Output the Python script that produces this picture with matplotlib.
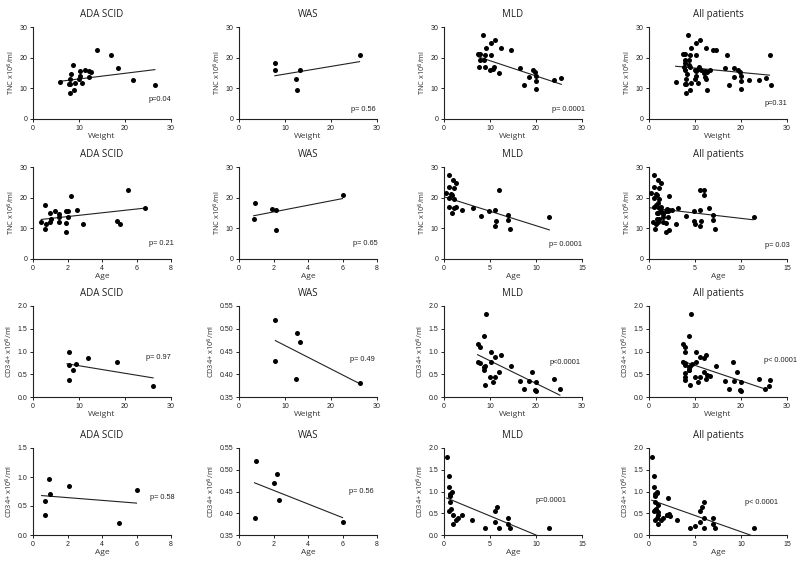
import matplotlib
matplotlib.use("Agg")
import matplotlib.pyplot as plt
import numpy as np

# ---------------- data ----------------
# Row 1: TNC vs Weight
ada_w_x = [5.9, 7.9, 8.1, 8.1, 8.3, 8.6, 8.9, 9.1, 10.1, 10.2, 10.2, 10.6, 11.4, 12.1, 12.2, 12.7, 14.0, 16.9, 18.5, 21.7, 26.6, 8.0]
ada_w_y = [12.1, 11.3, 8.6, 12.9, 14.6, 17.5, 9.6, 11.8, 12.9, 15.6, 14.0, 11.6, 15.9, 13.8, 15.6, 15.3, 22.6, 20.8, 16.6, 12.6, 11.2, 11.4]
was_w_x = [7.8, 7.8, 12.3, 13.2, 12.7, 26.2]
was_w_y = [18.4, 16.1, 13.0, 16.1, 9.4, 20.8]
mld_w_x = [7.3, 7.8, 7.5, 7.8, 8.5, 8.7, 8.9, 9.1, 8.9, 10.0, 10.2, 10.3, 10.6, 10.9, 11.1, 12.0, 12.3, 14.6,
           16.5, 17.4, 18.5, 19.3, 19.7, 20.0, 20.0, 20.0, 24.0, 25.4]
mld_w_y = [21.3, 21.3, 17.0, 19.4, 27.3, 19.4, 21.0, 23.3, 16.8, 15.9, 21.0, 24.8, 16.4, 17.0, 25.7, 15.1, 23.2, 22.4,
           16.7, 11.0, 13.8, 15.9, 15.4, 14.0, 12.5, 9.8, 12.7, 13.4]

# Row 2: TNC vs Age
ada_a_x = [0.48, 0.67, 0.71, 0.77, 1.0, 1.0, 1.04, 1.29, 1.52, 1.52, 1.52, 1.9, 1.9, 1.9, 2.02, 2.02, 2.19, 2.53, 2.92, 4.88, 5.03, 5.5, 6.5]
ada_a_y = [12.2, 9.8, 17.7, 11.5, 14.9, 12.2, 13.1, 15.5, 14.7, 13.8, 12.2, 15.6, 11.8, 8.7, 15.5, 13.6, 20.7, 16.0, 11.5, 12.5, 11.3, 22.6, 16.6]
was_a_x = [0.85, 0.95, 1.93, 2.13, 2.13, 6.0]
was_a_y = [13.0, 18.4, 16.2, 16.0, 9.4, 20.8]
mld_a_x = [0.25, 0.51, 0.55, 0.55, 0.55, 0.73, 0.91, 0.91, 0.98, 1.05, 1.09, 1.09, 1.35, 1.35, 1.96, 3.16, 4.0,
           4.9, 5.5, 5.7, 5.96, 5.5, 7.0, 7.0, 7.2, 11.45]
mld_a_y = [21.5, 20.0, 23.5, 27.5, 16.9, 21.3, 21.0, 15.0, 25.6, 19.6, 23.1, 16.6, 24.9, 16.9, 16.0, 16.7, 13.9,
           15.8, 16.0, 12.5, 22.4, 10.9, 14.2, 12.8, 9.8, 13.6]

# Row 3: CD34+ vs Weight
ada_cw_x = [7.8, 7.8, 7.8, 8.8, 9.25, 12.0, 18.2, 26.1]
ada_cw_y = [1.0, 0.70, 0.37, 0.60, 0.72, 0.86, 0.78, 0.24]
was_cw_x = [7.9, 7.9, 12.4, 12.7, 13.2, 26.2]
was_cw_y = [0.52, 0.43, 0.39, 0.49, 0.47, 0.38]
mld_cw_x = [7.3, 7.9, 7.4, 7.9, 8.6, 8.8, 8.8, 9.0, 9.1, 9.0, 9.9, 10.2, 10.3, 10.7, 11.0, 11.0, 12.0, 12.3,
            14.6, 16.5, 17.4, 18.5, 19.2, 19.7, 19.9, 20.1, 23.9, 25.3]
mld_cw_y = [1.16, 1.09, 0.76, 0.75, 1.35, 0.60, 0.65, 0.69, 1.82, 0.27, 0.44, 0.76, 1.0, 0.33, 0.89, 0.45, 0.55, 0.92,
            0.69, 0.36, 0.17, 0.35, 0.56, 0.16, 0.34, 0.13, 0.39, 0.17]

# Row 4: CD34+ vs Age
ada_ca_x = [0.7, 0.7, 0.9, 1.0, 2.1, 5.0, 6.0]
ada_ca_y = [0.35, 0.58, 0.97, 0.70, 0.85, 0.20, 0.77]
was_ca_x = [0.9, 1.0, 2.0, 2.2, 2.3, 6.0]
was_ca_y = [0.39, 0.52, 0.47, 0.49, 0.43, 0.38]
mld_ca_x = [0.3, 0.5, 0.5, 0.6, 0.6, 0.7, 0.8, 0.9, 0.5, 1.0, 1.0, 1.3, 1.5, 2.0, 3.0, 4.5, 5.5, 5.8, 6.0,
            5.5, 7.0, 7.2, 7.0, 11.4]
mld_ca_y = [1.80, 1.35, 1.10, 0.90, 0.75, 0.95, 0.60, 1.00, 0.55, 0.45, 0.25, 0.35, 0.40, 0.45, 0.35, 0.15, 0.55, 0.65, 0.15,
            0.30, 0.40, 0.15, 0.25, 0.15]

# regression line endpoints: (x0, x1), (y0, y1)
fit_lines = {
    (0, 0): ([5.9, 26.5], [12.3, 16.1]),
    (0, 1): ([7.8, 26.2], [14.1, 18.7]),
    (0, 2): ([7.4, 25.5], [20.3, 11.3]),
    (0, 3): ([5.8, 26.2], [17.2, 14.3]),
    (1, 0): ([0.48, 6.5], [12.9, 16.6]),
    (1, 1): ([0.85, 6.0], [14.1, 19.7]),
    (1, 2): ([0.1, 11.45], [20.2, 9.5]),
    (1, 3): ([0.1, 11.3], [16.7, 12.8]),
    (2, 0): ([7.4, 26.1], [0.73, 0.42]),
    (2, 1): ([7.9, 26.1], [0.474, 0.38]),
    (2, 2): ([7.3, 25.2], [0.93, 0.04]),
    (2, 3): ([7.2, 25.7], [0.79, 0.16]),
    (3, 0): ([0.5, 6.0], [0.68, 0.55]),
    (3, 1): ([0.9, 6.0], [0.47, 0.39]),
    (3, 2): ([0.3, 10.0], [0.85, 0.0]),
    (3, 3): ([0.3, 11.0], [0.80, 0.0]),
}

p_texts = [["p=0.04", "p= 0.56", "p= 0.0001", "p=0.31"],
           ["p= 0.21", "p= 0.65", "p= 0.0001", "p= 0.03"],
           ["p= 0.97", "p= 0.49", "p<0.0001", "p< 0.0001"],
           ["p= 0.58", "p= 0.56", "p=0.0001", "p< 0.0001"]]
p_pos = [[(25.1, 6.2), (24.4, 3.1), (23.5, 3.1), (25.1, 4.9)],
         [(6.7, 4.9), (6.6, 5.1), (11.45, 4.6), (12.6, 4.4)],
         [(24.5, 0.86), (24.1, 0.432), (23.0, 0.76), (25.0, 0.81)],
         [(6.8, 0.65), (6.4, 0.45), (10.0, 0.80), (10.4, 0.75)]]

titles = ["ADA SCID", "WAS", "MLD", "All patients"]
row_xlabels = ["Weight", "Age", "Weight", "Age"]
row_ylabels = ["TNC x10$^{6}$/ml", "TNC x10$^{6}$/ml", "CD34+ x10$^{6}$/ml", "CD34+ x10$^{6}$/ml"]

data = [
    [(ada_w_x, ada_w_y), (was_w_x, was_w_y), (mld_w_x, mld_w_y)],
    [(ada_a_x, ada_a_y), (was_a_x, was_a_y), (mld_a_x, mld_a_y)],
    [(ada_cw_x, ada_cw_y), (was_cw_x, was_cw_y), (mld_cw_x, mld_cw_y)],
    [(ada_ca_x, ada_ca_y), (was_ca_x, was_ca_y), (mld_ca_x, mld_ca_y)],
]

# axis ranges / ticks
xticks_weight = [0, 10, 20, 30]
xticks_age_small = [0, 2, 4, 6, 8]
xticks_age_big = [0, 5, 10, 15]
yt_tnc = [0, 10, 20, 30]
yt_cd = [0.0, 0.5, 1.0, 1.5, 2.0]
yt_cd15 = [0.0, 0.5, 1.0, 1.5]
yt_was = [0.35, 0.40, 0.45, 0.50, 0.55]

xticks = [[xticks_weight] * 4,
          [xticks_age_small, xticks_age_small, xticks_age_big, xticks_age_big],
          [xticks_weight] * 4,
          [xticks_age_small, xticks_age_small, xticks_age_big, xticks_age_big]]
yticks = [[yt_tnc] * 4,
          [yt_tnc] * 4,
          [yt_cd, yt_was, yt_cd, yt_cd],
          [yt_cd15, yt_was, yt_cd, yt_cd]]


def fmt_y(v, ticks):
    if max(ticks) >= 10:
        return "%d" % v
    if ticks[1] - ticks[0] < 0.1:
        return "%.2f" % v
    return "%.1f" % v


# ---------------- layout ----------------
W, H = 800, 569
fig = plt.figure(figsize=(W / 100, H / 100), dpi=100)
fig.patch.set_facecolor("white")

col_left = [33, 239, 444, 649]
col_w = 138
row_top = [27, 167, 306, 448]
row_bot = [119, 259, 397, 535]

title_font = "Open Sans"
tick_font = "Liberation Sans"

for r in range(4):
    for c in range(4):
        l = col_left[c]
        ax = fig.add_axes([l / W, 1 - row_bot[r] / H, col_w / W, (row_bot[r] - row_top[r]) / H])
        if c < 3:
            xs, ys = data[r][c]
        else:
            xs = sum([list(d[0]) for d in data[r]], [])
            ys = sum([list(d[1]) for d in data[r]], [])
        ax.scatter(xs, ys, s=13, color="black", linewidths=0, zorder=3, clip_on=False)
        lx, ly = fit_lines[(r, c)]
        ax.plot(lx, ly, color="#222222", lw=0.8, zorder=2, clip_on=False)
        xt = xticks[r][c]
        yt = yticks[r][c]
        ax.set_xlim(xt[0], xt[-1])
        ax.set_ylim(yt[0], yt[-1])
        ax.set_xticks(xt)
        ax.set_yticks(yt)
        ax.set_xticklabels([str(v) for v in xt], fontsize=5, family=tick_font, color="#222222")
        ax.set_yticklabels([fmt_y(v, yt) for v in yt], fontsize=5, family=tick_font, color="#222222")
        for s in ["top", "right"]:
            ax.spines[s].set_visible(False)
        for s in ["left", "bottom"]:
            ax.spines[s].set_linewidth(0.8)
            ax.spines[s].set_color("#222222")
        ax.tick_params(axis="both", direction="out", length=2.5, width=0.7, pad=1.5, colors="#222222")
        ax.set_facecolor("none")
        ax.set_title(titles[c], fontsize=7, family=title_font, color="#222222", pad=7)
        ax.set_xlabel(row_xlabels[r], fontsize=6, family=title_font, color="#333333", labelpad=1)
        ax.set_ylabel(row_ylabels[r], fontsize=5.3, family=title_font, color="#333333", labelpad=2)
        px, py = p_pos[r][c]
        ax.text(px, py, p_texts[r][c], fontsize=5.3, family=tick_font, color="#222222",
                ha="left", va="center", clip_on=False)

fig.savefig("out.png", dpi=100, facecolor="white")
